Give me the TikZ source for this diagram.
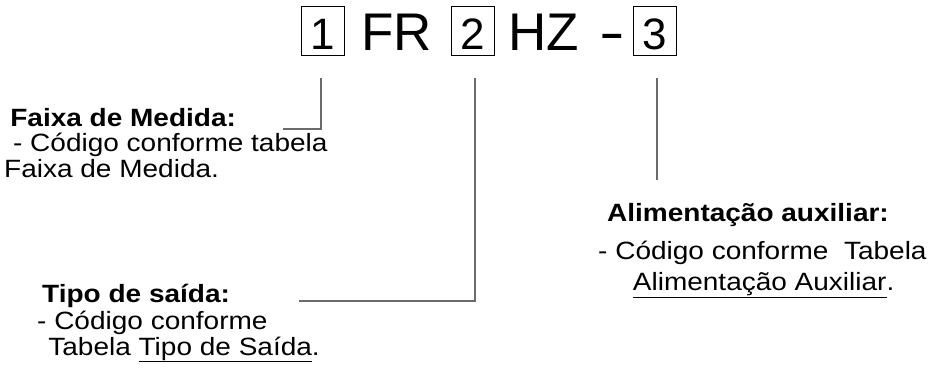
\documentclass[tikz,border=0pt]{standalone}
\usepackage{fontspec}
\usepackage{graphicx}
\setmainfont{Liberation Sans}
\newcommand{\wideblock}[1]{\scalebox{1.12}[1]{\begin{tabular}[b]{@{}l@{}}#1\end{tabular}}}
\begin{document}
\begin{tikzpicture}[x=1pt,y=-1pt,
  numbox/.style={draw,line width=1pt,minimum width=43pt,minimum height=49pt,inner sep=0pt,text height=40pt,text depth=3pt,font=\fontsize{44}{44}\selectfont},
  code/.style={inner sep=0pt,anchor=base west,font=\fontsize{53}{53}\selectfont},
  block/.style={inner sep=0pt,anchor=base west,font=\fontsize{25}{24}\selectfont},
  lead/.style={draw=black!58,line width=1.5pt}]
\useasboundingbox (0,0) rectangle (935,370);
% top code
\node[numbox] (b1) at (322.5,30.5) {1};
\node[code] (fr) at (361,50) {FR};
\node[numbox] (b2) at (473,30.5) {2};
\node[code] (hz) at (508,50) {HZ};
\node[code] (dash) at (599,50.5) {\scalebox{1.45}[1]{-}};
\node[numbox] (b3) at (654.5,30.5) {3};
% labels (anchor = baseline of the last line)
\node[block] (faixa) at (4,177) {\wideblock{\hspace*{5.5pt}\textbf{Faixa de Medida:}\\
  \hspace*{8pt}- Código conforme tabela\\
  Faixa de Medida.}};
\node[block] (tipo) at (37,355) {\wideblock{\hspace*{4.5pt}\textbf{Tipo de saída:}\\[1pt]
  - Código conforme\\
  \hspace*{10pt}Tabela \underline{Tipo de Saída}.}};
\node[block] (alim) at (598,290) {\wideblock{\hspace*{8pt}\textbf{Alimentação auxiliar:}\\[13pt]
  - Código conforme\ \ Tabela\\[5pt]
  \hspace*{31pt}\underline{Alimentação Auxiliar}.}};
% leader lines
\coordinate (s1) at (321,78);
\coordinate (e1) at (283,129);
\coordinate (s2) at (475,78);
\coordinate (e2) at (299,301);
\coordinate (s3) at (657,78);
\coordinate (e3) at (657,180);
\draw[lead] (s1) |- (e1);
\draw[lead] (s2) |- (e2);
\draw[lead] (s3) -- (e3);
\end{tikzpicture}
\end{document}
